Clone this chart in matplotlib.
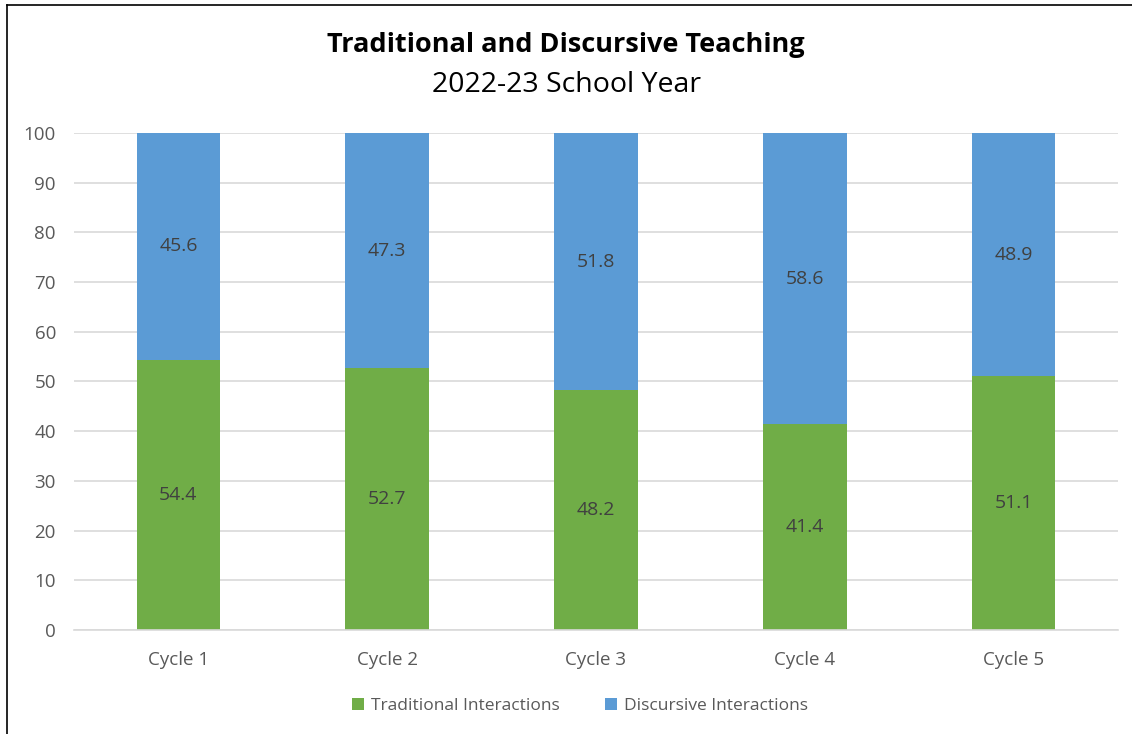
import numpy as np
import matplotlib.pyplot as plt
from matplotlib.lines import Line2D

categories = ["Cycle 1", "Cycle 2", "Cycle 3", "Cycle 4", "Cycle 5"]
traditional = [54.4, 52.7, 48.2, 41.4, 51.1]
discursive = [45.6, 47.3, 51.8, 58.6, 48.9]
series_names = ["Traditional Interactions", "Discursive Interactions"]
yticks = [0, 10, 20, 30, 40, 50, 60, 70, 80, 90, 100]

GREEN = "#70AD47"
BLUE = "#5B9BD5"

plt.rcParams["font.family"] = ["Open Sans", "DejaVu Sans"]

fig = plt.figure(figsize=(11.32, 7.34), dpi=100)
ax = fig.add_axes([0.0654, 0.1417, 0.9222, 0.6771])

x = np.arange(len(categories))
w = 0.40
b1 = ax.bar(x, traditional, width=w, color=GREEN, label=series_names[0], zorder=2)
b2 = ax.bar(x, discursive, width=w, bottom=traditional, color=BLUE, label=series_names[1], zorder=2)

for rect, v in zip(b1, traditional):
    ax.text(rect.get_x() + rect.get_width() / 2, v / 2, f"{v:.1f}",
            ha="center", va="center", fontsize=14, color="#404040")
for rect, base, v in zip(b2, traditional, discursive):
    ax.text(rect.get_x() + rect.get_width() / 2, base + v / 2, f"{v:.1f}",
            ha="center", va="center", fontsize=14, color="#404040")

ax.set_xlim(-0.5, len(categories) - 0.5)
ax.set_ylim(0, 100)
ax.set_yticks(yticks)
ax.set_xticks(x)
ax.set_xticklabels(categories)
ax.tick_params(axis="both", length=0, labelsize=13.5, colors="#595959")
ax.tick_params(axis="y", pad=13)
ax.tick_params(axis="x", pad=15)
ax.yaxis.grid(True, color="#D9D9D9", linewidth=1.2, zorder=0)
ax.set_axisbelow(True)
for s in ["top", "right", "left"]:
    ax.spines[s].set_visible(False)
ax.spines["bottom"].set_color("#D9D9D9")
ax.spines["bottom"].set_linewidth(1.2)

fig.text(0.5, 0.939, "Traditional and Discursive Teaching", ha="center", va="center",
         fontsize=19.5, fontweight="bold", color="black")
fig.text(0.5, 0.884, "2022-23 School Year", ha="center", va="center",
         fontsize=20.5, color="black")

fig.legend(handles=[b1, b2], labels=series_names, loc="center", bbox_to_anchor=(0.512, 0.038),
           ncol=2, frameon=False, fontsize=12.5, labelcolor="#595959",
           handlelength=0.7, handleheight=0.7, handletextpad=0.4, columnspacing=2.6)

# thin frame on the top and left edges
fig.add_artist(Line2D([7 / 1132, 1], [1 - 4.5 / 734, 1 - 4.5 / 734], color="black", linewidth=1.2,
                      transform=fig.transFigure))
fig.add_artist(Line2D([7 / 1132, 7 / 1132], [0, 1 - 4.5 / 734], color="black", linewidth=1.2,
                      transform=fig.transFigure))

fig.savefig("out.png", dpi=100)
